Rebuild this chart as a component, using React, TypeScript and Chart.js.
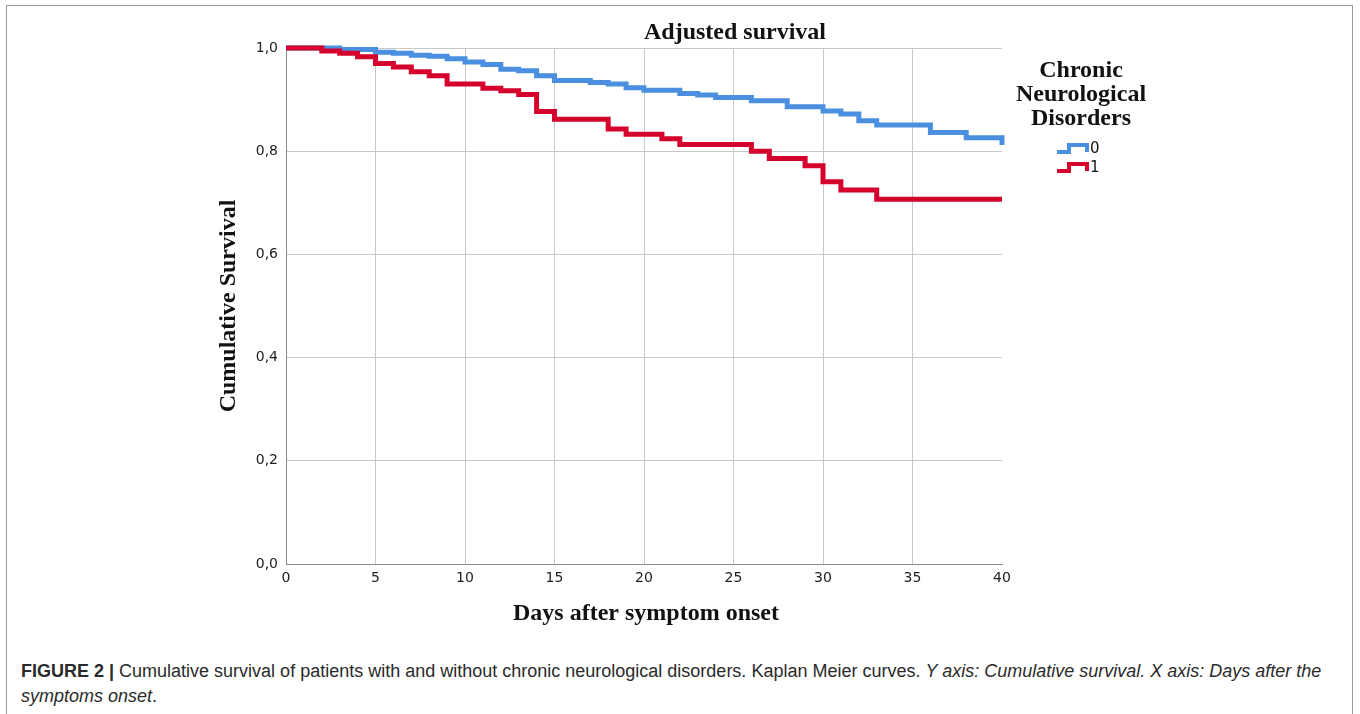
import React, { useEffect, useRef } from "react";
import { Chart, registerables } from "chart.js";

Chart.register(...registerables);

// ---- data ----
const groupLabels = ["0", "1"];
const days0 = [0, 3, 5, 6, 7, 8, 9, 10, 11, 12, 13, 14, 15, 17, 18, 19, 20, 22, 23, 24, 26, 28, 30, 31, 32, 33, 36, 38, 40];
const surv0 = [1, 0.997, 0.992, 0.99, 0.986, 0.984, 0.979, 0.973, 0.968, 0.959, 0.956, 0.946, 0.937, 0.933, 0.93, 0.923, 0.918, 0.912, 0.909, 0.904, 0.898, 0.886, 0.878, 0.872, 0.859, 0.851, 0.836, 0.826, 0.812];
const days1 = [0, 2, 3, 4, 5, 6, 7, 8, 9, 11, 12, 13, 14, 15, 18, 19, 21, 22, 26, 27, 29, 30, 31, 33, 40];
const surv1 = [1, 0.994, 0.99, 0.983, 0.97, 0.963, 0.954, 0.946, 0.93, 0.922, 0.917, 0.91, 0.877, 0.862, 0.843, 0.833, 0.824, 0.813, 0.8, 0.786, 0.772, 0.741, 0.725, 0.707, 0.707];
const xTicks = [0, 5, 10, 15, 20, 25, 30, 35, 40];
const yTicks = [0, 0.2, 0.4, 0.6, 0.8, 1.0];

const chartTitle = "Adjusted survival";
const xTitle = "Days after symptom onset";
const yTitle = "Cumulative Survival";
const legendTitle = ["Chronic", "Neurological", "Disorders"];

const BLUE = "#4a8fe0";
const RED = "#d4022d";
const SERIF = '"Liberation Serif", "Times New Roman", serif';
const SANS = '"DejaVu Sans", sans-serif';

const textPlugin = {
  id: "textPlugin",
  afterDraw(chart: any) {
    const { ctx, chartArea: a } = chart;
    ctx.save();
    ctx.fillStyle = "#111";
    ctx.textAlign = "center";
    ctx.textBaseline = "middle";
    ctx.font = `bold 24px ${SERIF}`;
    ctx.fillText(chartTitle, a.left + 449, a.top - 15);
    ctx.fillText(xTitle, (a.left + a.right) / 2 + 2, a.bottom + 50);
    ctx.save();
    ctx.translate(a.left - 57, (a.top + a.bottom) / 2);
    ctx.rotate(-Math.PI / 2);
    ctx.fillText(yTitle, 0, 0);
    ctx.restore();
    // legend
    const lx = a.right + 79;
    legendTitle.forEach((t, i) => ctx.fillText(t, lx, a.top + 23 + i * 24));
    const datasets = chart.data.datasets;
    ctx.font = `15px ${SANS}`;
    ctx.textAlign = "left";
    datasets.forEach((ds: any, i: number) => {
      const y = a.top + 104 + i * 19;
      const x0 = a.right + 55;
      ctx.strokeStyle = ds.borderColor;
      ctx.lineWidth = 4;
      ctx.lineJoin = "miter";
      ctx.beginPath();
      ctx.moveTo(x0, y);
      ctx.lineTo(x0 + 12, y);
      ctx.lineTo(x0 + 12, y - 7);
      ctx.lineTo(x0 + 30, y - 7);
      ctx.lineTo(x0 + 30, y);
      ctx.stroke();
      ctx.fillStyle = "#111";
      ctx.fillText(ds.label, x0 + 33, y - 3);
    });
    ctx.restore();
  },
};

export default function App() {
  const ref = useRef<HTMLCanvasElement | null>(null);
  useEffect(() => {
    if (!ref.current) return;
    const chart = new Chart(ref.current, {
      type: "line",
      data: {
        datasets: [
          {
            label: groupLabels[0],
            data: days0.map((d, i) => ({ x: d, y: surv0[i] })),
            borderColor: BLUE,
            backgroundColor: BLUE,
            borderWidth: 5,
            stepped: true,
            pointRadius: 0,
            fill: false,
            order: 1,
            clip: 6,
            borderCapStyle: "butt",
            borderJoinStyle: "miter",
          },
          {
            label: groupLabels[1],
            data: days1.map((d, i) => ({ x: d, y: surv1[i] })),
            borderColor: RED,
            backgroundColor: RED,
            borderWidth: 5,
            stepped: true,
            pointRadius: 0,
            fill: false,
            order: 0,
            clip: 6,
            borderCapStyle: "butt",
            borderJoinStyle: "miter",
          },
        ],
      },
      options: {
        animation: false,
        responsive: false,
        maintainAspectRatio: false,
        layout: { padding: { top: 48, right: 358, left: 0, bottom: 0 } },
        plugins: { legend: { display: false }, tooltip: { enabled: false }, title: { display: false } },
        scales: {
          x: {
            type: "linear",
            min: 0,
            max: 40,
            afterBuildTicks: (s: any) => {
              s.ticks = xTicks.map((v) => ({ value: v }));
            },
            afterFit: (s: any) => {
              s.height = 76;
            },
            ticks: { font: { family: SANS, size: 14 }, color: "#222", padding: 6, maxRotation: 0, autoSkip: false },
            grid: {
              drawTicks: false,
              color: (c: any) => (c.tick && c.tick.value === 40 ? "rgba(0,0,0,0)" : "#c8c8c8"),
              lineWidth: 1,
            },
            border: { color: "#8a8a8a", width: 1 },
          },
          y: {
            type: "linear",
            min: 0,
            max: 1,
            afterBuildTicks: (s: any) => {
              s.ticks = yTicks.map((v) => ({ value: v }));
            },
            afterFit: (s: any) => {
              s.width = 286;
            },
            ticks: {
              font: { family: SANS, size: 14 },
              color: "#222",
              padding: 8,
              callback: (v: any) => Number(v).toFixed(1).replace(".", ","),
            },
            grid: { drawTicks: false, color: "#c8c8c8", lineWidth: 1 },
            border: { color: "#8a8a8a", width: 1 },
          },
        },
      },
      plugins: [textPlugin],
    });
    return () => chart.destroy();
  }, []);

  return (
    <div style={{ position: "absolute", left: 0, top: 0, width: 1360, height: 714, overflow: "hidden", background: "#fff" }}>
      <div
        style={{
          position: "absolute",
          left: 6,
          top: 5,
          width: 1347,
          height: 760,
          border: "1px solid #9a9a9a",
          boxSizing: "border-box",
        }}
      />
      <canvas ref={ref} width={1360} height={640} style={{ position: "absolute", left: 0, top: 0, width: 1360, height: 640 }} />
      <div
        style={{
          position: "absolute",
          left: 21,
          top: 659,
          whiteSpace: "nowrap",
          fontFamily: '"Liberation Sans", Arial, sans-serif',
          fontSize: 18,
          lineHeight: "25px",
          color: "#2a2a2a",
        }}
      >
        <b>FIGURE 2 |</b> Cumulative survival of patients with and without chronic neurological disorders. Kaplan Meier curves.{" "}
        <i>Y axis: Cumulative survival. X axis: Days after the</i>
        <br />
        <i>symptoms onset</i>.
      </div>
    </div>
  );
}
